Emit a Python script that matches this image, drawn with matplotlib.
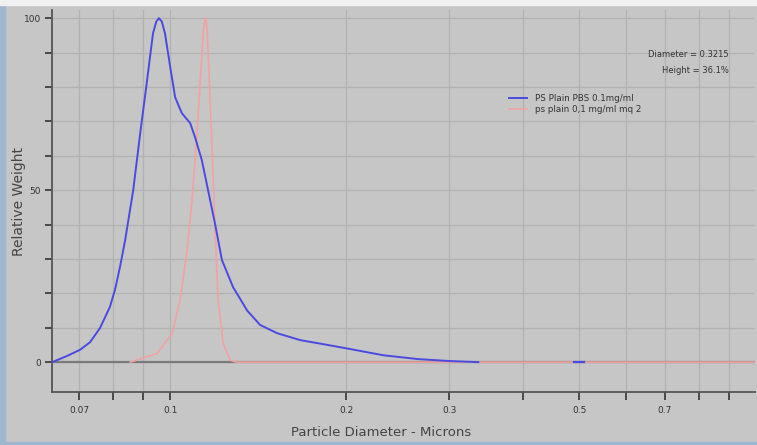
import matplotlib
matplotlib.use("Agg")
from matplotlib import pyplot as plt
from matplotlib.patches import Rectangle
import numpy as np

# PS Plain PBS 0.1mg/ml  (diameter in microns, relative weight)
blue_x = [0.0629, 0.0667, 0.0702, 0.0730, 0.0759, 0.0789, 0.0805, 0.0821, 0.0838,
          0.0865, 0.0889, 0.0912, 0.0935, 0.0947, 0.0957, 0.0968, 0.0980, 0.1000,
          0.1020, 0.1047, 0.1082, 0.1103, 0.1133, 0.1161, 0.1194, 0.1226, 0.1281,
          0.1354, 0.1425, 0.1524, 0.1668, 0.1900, 0.2031, 0.2312, 0.2644, 0.3010,
          0.3361]
blue_y = [0, 1.8, 3.6, 5.8, 9.9, 16, 21, 27.6, 35.5,
          50, 66.5, 81, 95.6, 99, 100, 99, 95.6, 86,
          77, 72.4, 69.5, 65.4, 58.7, 50, 40, 29.7, 21.8,
          15, 10.8, 8.4, 6.4, 4.7, 3.8, 2, 0.9, 0.3,
          0]
blue_tail_x = [0.490, 0.510]
blue_tail_y = [0, 0]

# ps plain 0,1 mg/ml mq 2
pink_x = [0.0855, 0.0950, 0.1008, 0.1040, 0.1069, 0.1090, 0.1112, 0.1125, 0.1139,
          0.1145, 0.1151, 0.1156, 0.1161, 0.1180, 0.1194, 0.1208, 0.1232, 0.1266,
          0.1297, 1.0]
pink_y = [0, 2.5, 8.4, 18, 32.5, 47, 66.5, 81, 95.6,
          99, 100, 97, 90.7, 61.6, 37.5, 18, 5.5, 0.6,
          0, 0]

major_ticks = [0.07, 0.1, 0.2, 0.3, 0.5, 0.7]
major_labels = ["0.07", "0.1", "0.2", "0.3", "0.5", "0.7"]
minor_ticks = [0.08, 0.09, 0.4, 0.6, 0.8, 0.9]

bg = "#c6c6c6"
fig = plt.figure(figsize=(7.57, 4.45), dpi=100, facecolor=bg)
ax = fig.add_axes([0.069, 0.119, 0.929, 0.858])
ax.set_facecolor(bg)

# window frame bits
fig.patches.append(Rectangle((0, 0), 0.007, 1, transform=fig.transFigure,
                             color="#9fb6cf", zorder=-1))
fig.patches.append(Rectangle((0, 0.988), 1, 0.012, transform=fig.transFigure,
                             color="#f0f0f0", zorder=-1))
fig.patches.append(Rectangle((0, 0), 1, 0.006, transform=fig.transFigure,
                             color="#9fb6cf", zorder=-1))

ax.set_xscale("log")
ax.set_xlim(0.0629, 1.0)
ax.set_ylim(-8.7, 102.3)

ax.set_xticks(major_ticks + minor_ticks)
ax.set_xticklabels(major_labels + [""] * len(minor_ticks))
ax.xaxis.set_minor_locator(matplotlib.ticker.NullLocator())
ax.set_yticks(np.arange(0, 101, 10))
ax.set_yticklabels(["0", "", "", "", "", "50", "", "", "", "", "100"])

ax.grid(True, color="#b2b2b2", linewidth=0.9)
ax.set_axisbelow(True)
ax.tick_params(axis="both", colors="#333333", labelsize=6.5, length=5, width=1.2)
ax.tick_params(axis="x", pad=4, length=6)
ax.tick_params(axis="y", pad=3)
for s in ["top", "right"]:
    ax.spines[s].set_visible(False)
for s in ["left", "bottom"]:
    ax.spines[s].set_color("#555555")
    ax.spines[s].set_linewidth(1.3)

ax.axhline(0, color="#7a7a7a", linewidth=1.6, zorder=1)

ax.plot(blue_x, blue_y, color="#4a4ae0", linewidth=1.4, zorder=3,
        label="PS Plain PBS 0.1mg/ml")
ax.plot(pink_x, pink_y, color="#f2a2a2", linewidth=1.2, zorder=2,
        label="ps plain 0,1 mg/ml mq 2")
ax.plot(blue_tail_x, blue_tail_y, color="#4a4ae0", linewidth=1.6, zorder=3)

ax.set_ylabel("Relative Weight", fontsize=10, color="#444444")
ax.yaxis.set_label_coords(-0.038, 0.5)
ax.set_xlabel("Particle Diameter - Microns", fontsize=9.5, color="#444444")
ax.xaxis.set_label_coords(0.467, -0.09)

ax.legend(loc="upper left", bbox_to_anchor=(0.645, 0.79), frameon=False,
          fontsize=6.3, handlelength=2.0, handletextpad=0.9, labelspacing=0.25,
          borderaxespad=0, labelcolor="#333333")

ax.text(0.962, 0.885, "Diameter = 0.3215", transform=ax.transAxes, ha="right",
        va="center", fontsize=6, color="#333333")
ax.text(0.962, 0.843, "Height = 36.1%", transform=ax.transAxes, ha="right",
        va="center", fontsize=6, color="#333333")

fig.savefig("out.png", dpi=100, facecolor=bg)
